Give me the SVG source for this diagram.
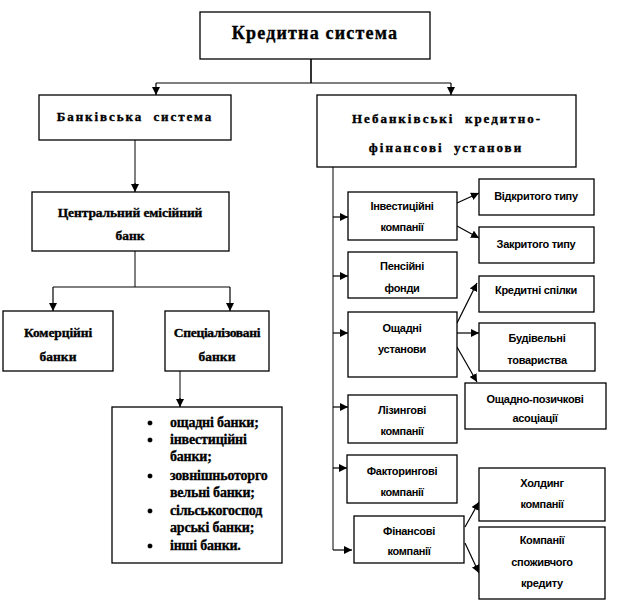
<svg xmlns="http://www.w3.org/2000/svg" width="626" height="603" viewBox="0 0 626 603">
<style>
.box{fill:#fff;stroke:#000;stroke-width:1.3}
.ser{font-family:'Liberation Serif','DejaVu Serif',serif;font-weight:bold;fill:#000;text-anchor:middle;stroke:#000;stroke-width:0.35}
.sans{font-family:'Liberation Sans',Arial,sans-serif;font-weight:bold;font-size:11px;fill:#000;text-anchor:middle;letter-spacing:-0.3px}
.ln{fill:none;stroke:#000;stroke-width:1.2}
.gl{fill:none;stroke:#808080;stroke-width:2}
.dl{fill:none;stroke:#333;stroke-width:2}
.bl{font-family:'Liberation Serif','DejaVu Serif',serif;font-weight:bold;font-size:14px;fill:#000;stroke:#000;stroke-width:0.3}
</style>
<defs>
<marker id="ah" viewBox="0 0 10 10" refX="10" refY="5" markerWidth="8" markerHeight="8" markerUnits="userSpaceOnUse" orient="auto">
<path d="M0,0 L10,5 L0,10 Z" fill="#000"/>
</marker>
</defs>
<rect width="626" height="603" fill="#fff"/>
<g id="connectors">
<path class="dl" d="M311,59 V83"/>
<path class="ln" d="M156,83 H451"/>
<path class="ln" d="M156,83 V95" marker-end="url(#ah)"/>
<path class="ln" d="M451,83 V95" marker-end="url(#ah)"/>
<path class="gl" d="M135,140 V184"/>
<path class="ln" d="M135,183 V192" marker-end="url(#ah)"/>
<path class="gl" d="M135,251 V287"/>
<path class="ln" d="M53,287 H230"/>
<path class="ln" d="M53,287 V311" marker-end="url(#ah)"/>
<path class="ln" d="M230,287 V311" marker-end="url(#ah)"/>
<path class="gl" d="M180,371 V400"/>
<path class="ln" d="M180,398 V407" marker-end="url(#ah)"/>
<path class="gl" d="M333,167 V550"/>
<path class="ln" d="M333,217 H348" marker-end="url(#ah)"/>
<path class="ln" d="M333,276 H348" marker-end="url(#ah)"/>
<path class="ln" d="M333,333 H348" marker-end="url(#ah)"/>
<path class="ln" d="M333,407 H348" marker-end="url(#ah)"/>
<path class="ln" d="M333,468 H347" marker-end="url(#ah)"/>
<path class="ln" d="M333,550 H352" marker-end="url(#ah)"/>
<path class="ln" d="M457,203 L479,193" marker-end="url(#ah)"/>
<path class="ln" d="M457,226 L479,238" marker-end="url(#ah)"/>
<path class="ln" d="M457,323 L477,283" marker-end="url(#ah)"/>
<path class="ln" d="M457,333 L479,333" marker-end="url(#ah)"/>
<path class="ln" d="M457,347 L477,382" marker-end="url(#ah)"/>
<path class="ln" d="M465,527 L479,502" marker-end="url(#ah)"/>
<path class="ln" d="M465,543 L479,573" marker-end="url(#ah)"/>
</g>
<g id="kredytna">
<rect class="box" x="200" y="12" width="230" height="47"/>
<text class="ser" x="315" y="39" font-size="18" letter-spacing="1.2">Кредитна система</text>
</g>
<g id="bankivska">
<rect class="box" x="39" y="95" width="192" height="45"/>
<text class="ser" x="135" y="121" font-size="13" letter-spacing="1.9" xml:space="preserve">Банківська  система</text>
</g>
<g id="nebankivski">
<rect class="box" x="317" y="95" width="259" height="72"/>
<text class="ser" x="447" y="123" font-size="13" letter-spacing="2" xml:space="preserve">Небанківські  кредитно-</text>
<text class="ser" x="446" y="152" font-size="13" letter-spacing="2" xml:space="preserve">фінансові  установи</text>
</g>
<g id="tsentralnyi">
<rect class="box" x="32" y="192" width="197" height="59"/>
<text class="ser" x="130" y="217" font-size="13.5" letter-spacing="-0.1">Центральний емісійний</text>
<text class="ser" x="130" y="240" font-size="13.5">банк</text>
</g>
<g id="komertsiini">
<rect class="box" x="3" y="311" width="110" height="60"/>
<text class="ser" x="58" y="337" font-size="13.5" letter-spacing="-0.1">Комерційні</text>
<text class="ser" x="58" y="361" font-size="13.5">банки</text>
</g>
<g id="spetsializovani">
<rect class="box" x="165" y="311" width="104" height="60"/>
<text class="ser" x="217" y="337" font-size="13.5" letter-spacing="-0.3">Спеціалізовані</text>
<text class="ser" x="217" y="361" font-size="13.5">банки</text>
</g>
<g id="spysok">
<rect class="box" x="112" y="407" width="170" height="156"/>
<g class="bl">
<circle cx="150" cy="423" r="2.3"/>
<circle cx="150" cy="440" r="2.3"/>
<circle cx="150" cy="476" r="2.3"/>
<circle cx="150" cy="511" r="2.3"/>
<circle cx="150" cy="546" r="2.3"/>
<text x="170" y="427" letter-spacing="-0.2">ощадні банки;</text>
<text x="170" y="444" letter-spacing="-0.2">інвестиційні</text>
<text x="170" y="461" letter-spacing="-0.2">банки;</text>
<text x="170" y="480" letter-spacing="-0.2">зовнішньоторго</text>
<text x="170" y="497" letter-spacing="-0.2">вельні банки;</text>
<text x="170" y="515" letter-spacing="-0.2">сільськогоспод</text>
<text x="170" y="532" letter-spacing="-0.2">арські банки;</text>
<text x="170" y="550" letter-spacing="-0.2">інші банки.</text>
</g>
</g>
<g id="investytsiini">
<rect class="box" x="348" y="192" width="109" height="48"/>
<text class="sans" x="402" y="210">Інвестиційні</text>
<text class="sans" x="402" y="231">компанії</text>
</g>
<g id="vidkrytoho">
<rect class="box" x="479" y="179" width="115" height="36"/>
<text class="sans" x="536" y="200">Відкритого типу</text>
</g>
<g id="zakrytoho">
<rect class="box" x="479" y="227" width="115" height="36"/>
<text class="sans" x="536" y="248">Закритого типу</text>
</g>
<g id="pensiini">
<rect class="box" x="348" y="252" width="109" height="46"/>
<text class="sans" x="402" y="270">Пенсійні</text>
<text class="sans" x="402" y="292">фонди</text>
</g>
<g id="kredytni-spilky">
<rect class="box" x="479" y="276" width="115" height="36"/>
<text class="sans" x="536" y="294">Кредитні спілки</text>
</g>
<g id="oshchadni">
<rect class="box" x="348" y="312" width="109" height="65"/>
<text class="sans" x="402" y="332">Ощадні</text>
<text class="sans" x="402" y="353">установи</text>
</g>
<g id="budivelni">
<rect class="box" x="479" y="323" width="116" height="48"/>
<text class="sans" x="537" y="342">Будівельні</text>
<text class="sans" x="537" y="364">товариства</text>
</g>
<g id="oshchadno-pozychkovi">
<rect class="box" x="465" y="383" width="141" height="46"/>
<text class="sans" x="535" y="403">Ощадно-позичкові</text>
<text class="sans" x="535" y="422">асоціації</text>
</g>
<g id="lizynhovi">
<rect class="box" x="348" y="395" width="109" height="48"/>
<text class="sans" x="402" y="414">Лізингові</text>
<text class="sans" x="402" y="435">компанії</text>
</g>
<g id="faktorynhovi">
<rect class="box" x="347" y="455" width="110" height="48"/>
<text class="sans" x="402" y="475">Факторингові</text>
<text class="sans" x="402" y="496">компанії</text>
</g>
<g id="finansovi">
<rect class="box" x="354" y="516" width="110" height="47"/>
<text class="sans" x="409" y="535">Фінансові</text>
<text class="sans" x="409" y="555">компанії</text>
</g>
<g id="kholdynh">
<rect class="box" x="479" y="468" width="126" height="53"/>
<text class="sans" x="542" y="487">Холдинг</text>
<text class="sans" x="542" y="508">компанії</text>
</g>
<g id="spozhyvchoho">
<rect class="box" x="479" y="527" width="126" height="72"/>
<text class="sans" x="542" y="544">Компанії</text>
<text class="sans" x="542" y="566">споживчого</text>
<text class="sans" x="542" y="587">кредиту</text>
</g>
</svg>
